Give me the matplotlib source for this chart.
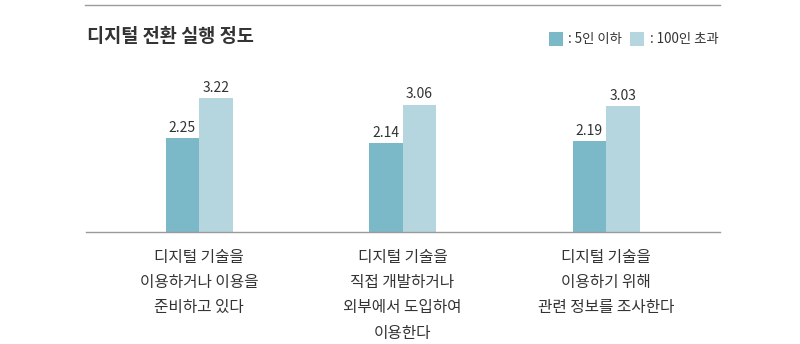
import matplotlib
matplotlib.use('Agg')
import numpy as np
from matplotlib import pyplot as plt
from matplotlib.lines import Line2D
from matplotlib.patches import Rectangle

plt.rcParams['font.family'] = ['Noto Sans CJK KR', 'DejaVu Sans']

# survey groups and scores
title = '디지털 전환 실행 정도'
categories = [
    '디지털 기술을\n이용하거나 이용을\n준비하고 있다',
    '디지털 기술을\n직접 개발하거나\n외부에서 도입하여\n이용한다',
    '디지털 기술을\n이용하기 위해\n관련 정보를 조사한다',
]
series_names = [': 5인 이하', ': 100인 초과']
small_firms = [2.25, 2.14, 2.19]
large_firms = [3.22, 3.06, 3.03]

dark = '#7bb8c8'
light = '#b5d6de'
text_col = '#333333'
line_col = '#9a9a9a'

W, H = 800, 344
fig = plt.figure(figsize=(W / 100, H / 100), dpi=100)

# plot area in pixels: left 86, right 720, baseline at y=232
left, right, base = 86, 720, 232
ax = fig.add_axes([left / W, (H - base) / H, (right - left) / W, base / H])
px_per_unit = 41.6
ax.set_ylim(0, base / px_per_unit)
spacing = 203.5
first = 113
ax.set_xlim(-first / spacing, (right - left - first) / spacing)

x = np.arange(len(categories))
bw = 33.5 / spacing
b1 = ax.bar(x - bw / 2, small_firms, bw, color=dark, linewidth=0)
b2 = ax.bar(x + bw / 2, large_firms, bw, color=light, linewidth=0)

for bars, vals in ((b1, small_firms), (b2, large_firms)):
    for r, v in zip(bars, vals):
        ax.annotate('%.2f' % v, (r.get_x() + r.get_width() / 2, v),
                    xytext=(0, 4.5), textcoords='offset points',
                    ha='center', va='baseline', fontsize=10, color=text_col)

ax.set_xticks(x)
ax.set_xticklabels(categories, fontsize=11.3, color=text_col, linespacing=1.64)
ax.tick_params(axis='x', length=0, pad=12)
ax.set_yticks([])
for s in ('top', 'right', 'left'):
    ax.spines[s].set_visible(False)
ax.spines['bottom'].set_color(line_col)
ax.spines['bottom'].set_linewidth(1)

# top rule and title
fig.add_artist(Line2D([85 / W, 720 / W], [1 - 5 / H, 1 - 5 / H], color=line_col, lw=1))
fig.text(87 / W, 1 - 36 / H, title, fontsize=13.4, fontweight='bold',
         color=text_col, ha='left', va='center')

# legend
for sx, tx, col, name in ((549, 568, dark, series_names[0]),
                          (630, 650, light, series_names[1])):
    fig.add_artist(Rectangle((sx / W, 1 - 46 / H), 14 / W, 14 / H,
                             transform=fig.transFigure, color=col, lw=0))
    fig.text(tx / W, 1 - 39 / H, name, fontsize=9.6, color=text_col,
             ha='left', va='center')

fig.savefig('out.png', dpi=100)
